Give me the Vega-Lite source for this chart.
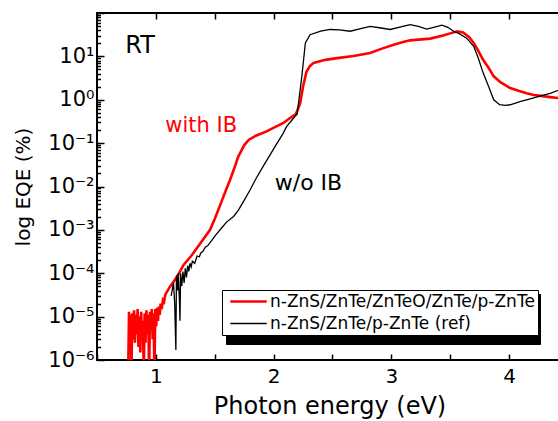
{
  "$schema": "https://vega.github.io/schema/vega-lite/v6.json",
  "width": 465,
  "height": 347,
  "autosize": {"type": "none"},
  "padding": {"left": 97, "top": 13, "right": 0, "bottom": 61},
  "background": "white",
  "config": {
    "view": {"stroke": "black", "strokeWidth": 2},
    "font": "DejaVu Sans",
    "axis": {
      "domain": false,
      "tickColor": "black",
      "tickWidth": 1.5,
      "labelColor": "black",
      "titleColor": "black",
      "labelFont": "DejaVu Sans",
      "titleFont": "DejaVu Sans",
      "titleFontWeight": "normal",
      "grid": false
    },
    "legend": {"labelFont": "DejaVu Sans"}
  },
  "resolve": {"axis": {"x": "independent", "y": "independent"}},
  "layer": [
    {
      "data": {
        "values": [
          {"s": "IB", "e": 0.765, "eqe": 5e-7},
          {"s": "IB", "e": 0.772, "eqe": 1.3e-5},
          {"s": "IB", "e": 0.778, "eqe": 4e-6},
          {"s": "IB", "e": 0.785, "eqe": 1.1e-5},
          {"s": "IB", "e": 0.792, "eqe": 5e-7},
          {"s": "IB", "e": 0.8, "eqe": 1.2e-5},
          {"s": "IB", "e": 0.808, "eqe": 3e-6},
          {"s": "IB", "e": 0.815, "eqe": 1.4e-5},
          {"s": "IB", "e": 0.822, "eqe": 2.5e-6},
          {"s": "IB", "e": 0.83, "eqe": 1.1e-5},
          {"s": "IB", "e": 0.838, "eqe": 4e-6},
          {"s": "IB", "e": 0.845, "eqe": 1.5e-5},
          {"s": "IB", "e": 0.852, "eqe": 2e-6},
          {"s": "IB", "e": 0.86, "eqe": 1.0e-5},
          {"s": "IB", "e": 0.868, "eqe": 1.5e-6},
          {"s": "IB", "e": 0.875, "eqe": 1.3e-5},
          {"s": "IB", "e": 0.883, "eqe": 3e-6},
          {"s": "IB", "e": 0.89, "eqe": 8e-6},
          {"s": "IB", "e": 0.897, "eqe": 5e-7},
          {"s": "IB", "e": 0.905, "eqe": 1.2e-5},
          {"s": "IB", "e": 0.912, "eqe": 2.5e-6},
          {"s": "IB", "e": 0.92, "eqe": 1.4e-5},
          {"s": "IB", "e": 0.928, "eqe": 4e-6},
          {"s": "IB", "e": 0.935, "eqe": 1.1e-5},
          {"s": "IB", "e": 0.943, "eqe": 5e-7},
          {"s": "IB", "e": 0.95, "eqe": 1.3e-5},
          {"s": "IB", "e": 0.958, "eqe": 5e-6},
          {"s": "IB", "e": 0.965, "eqe": 1.5e-5},
          {"s": "IB", "e": 0.973, "eqe": 3e-6},
          {"s": "IB", "e": 0.98, "eqe": 1.2e-5},
          {"s": "IB", "e": 0.988, "eqe": 5e-7},
          {"s": "IB", "e": 0.995, "eqe": 1.5e-5},
          {"s": "IB", "e": 1.003, "eqe": 6e-6},
          {"s": "IB", "e": 1.01, "eqe": 1.6e-5},
          {"s": "IB", "e": 1.018, "eqe": 8e-6},
          {"s": "IB", "e": 1.025, "eqe": 1.7e-5},
          {"s": "IB", "e": 1.033, "eqe": 1.1e-5},
          {"s": "IB", "e": 1.04, "eqe": 2.0e-5},
          {"s": "IB", "e": 1.05, "eqe": 1.5e-5},
          {"s": "IB", "e": 1.06, "eqe": 2.4e-5},
          {"s": "IB", "e": 1.07, "eqe": 2.2e-5},
          {"s": "IB", "e": 1.08, "eqe": 3.2e-5},
          {"s": "IB", "e": 1.12, "eqe": 4.9e-5},
          {"s": "IB", "e": 1.18, "eqe": 8.3e-5},
          {"s": "IB", "e": 1.235, "eqe": 1.55e-4},
          {"s": "IB", "e": 1.3, "eqe": 2.5e-4},
          {"s": "IB", "e": 1.38, "eqe": 5.0e-4},
          {"s": "IB", "e": 1.46, "eqe": 1.0e-3},
          {"s": "IB", "e": 1.5, "eqe": 1.78e-3},
          {"s": "IB", "e": 1.55, "eqe": 3.98e-3},
          {"s": "IB", "e": 1.6, "eqe": 8.9e-3},
          {"s": "IB", "e": 1.63, "eqe": 0.0141},
          {"s": "IB", "e": 1.67, "eqe": 0.0282},
          {"s": "IB", "e": 1.7, "eqe": 0.049},
          {"s": "IB", "e": 1.75, "eqe": 0.089},
          {"s": "IB", "e": 1.79, "eqe": 0.12},
          {"s": "IB", "e": 1.85, "eqe": 0.148},
          {"s": "IB", "e": 1.94, "eqe": 0.186},
          {"s": "IB", "e": 2.02, "eqe": 0.24},
          {"s": "IB", "e": 2.08, "eqe": 0.288},
          {"s": "IB", "e": 2.14, "eqe": 0.38},
          {"s": "IB", "e": 2.19, "eqe": 0.468},
          {"s": "IB", "e": 2.226, "eqe": 0.83},
          {"s": "IB", "e": 2.25, "eqe": 2.0},
          {"s": "IB", "e": 2.28, "eqe": 4.47},
          {"s": "IB", "e": 2.31, "eqe": 6.03},
          {"s": "IB", "e": 2.34, "eqe": 7.08},
          {"s": "IB", "e": 2.44, "eqe": 8.32},
          {"s": "IB", "e": 2.54, "eqe": 9.12},
          {"s": "IB", "e": 2.68, "eqe": 10.2},
          {"s": "IB", "e": 2.82, "eqe": 12.0},
          {"s": "IB", "e": 2.92, "eqe": 15.1},
          {"s": "IB", "e": 3.02, "eqe": 18.6},
          {"s": "IB", "e": 3.1, "eqe": 21.4},
          {"s": "IB", "e": 3.16, "eqe": 23.4},
          {"s": "IB", "e": 3.33, "eqe": 25.7},
          {"s": "IB", "e": 3.44, "eqe": 30.2},
          {"s": "IB", "e": 3.5, "eqe": 33.9},
          {"s": "IB", "e": 3.56, "eqe": 38.0},
          {"s": "IB", "e": 3.61, "eqe": 35.5},
          {"s": "IB", "e": 3.66, "eqe": 28.2},
          {"s": "IB", "e": 3.7, "eqe": 20.4},
          {"s": "IB", "e": 3.74, "eqe": 13.2},
          {"s": "IB", "e": 3.78, "eqe": 8.32},
          {"s": "IB", "e": 3.83, "eqe": 5.25},
          {"s": "IB", "e": 3.87, "eqe": 3.47},
          {"s": "IB", "e": 3.93, "eqe": 2.51},
          {"s": "IB", "e": 4.01, "eqe": 1.86},
          {"s": "IB", "e": 4.08, "eqe": 1.62},
          {"s": "IB", "e": 4.15, "eqe": 1.41},
          {"s": "IB", "e": 4.21, "eqe": 1.29},
          {"s": "IB", "e": 4.27, "eqe": 1.23},
          {"s": "IB", "e": 4.35, "eqe": 1.15},
          {"s": "IB", "e": 4.45, "eqe": 1.07},
          {"s": "ref", "e": 1.13, "eqe": 3e-5},
          {"s": "ref", "e": 1.15, "eqe": 6e-5},
          {"s": "ref", "e": 1.16, "eqe": 2e-5},
          {"s": "ref", "e": 1.17, "eqe": 1.7e-6},
          {"s": "ref", "e": 1.175, "eqe": 9e-5},
          {"s": "ref", "e": 1.185, "eqe": 4e-5},
          {"s": "ref", "e": 1.19, "eqe": 1e-4},
          {"s": "ref", "e": 1.2, "eqe": 2.5e-5},
          {"s": "ref", "e": 1.205, "eqe": 8e-6},
          {"s": "ref", "e": 1.21, "eqe": 1e-4},
          {"s": "ref", "e": 1.22, "eqe": 5e-5},
          {"s": "ref", "e": 1.23, "eqe": 1.1e-4},
          {"s": "ref", "e": 1.24, "eqe": 6e-5},
          {"s": "ref", "e": 1.25, "eqe": 1.3e-4},
          {"s": "ref", "e": 1.26, "eqe": 8e-5},
          {"s": "ref", "e": 1.27, "eqe": 1.5e-4},
          {"s": "ref", "e": 1.28, "eqe": 1.1e-4},
          {"s": "ref", "e": 1.29, "eqe": 1.7e-4},
          {"s": "ref", "e": 1.3, "eqe": 1.4e-4},
          {"s": "ref", "e": 1.31, "eqe": 1.9e-4},
          {"s": "ref", "e": 1.33, "eqe": 1.7e-4},
          {"s": "ref", "e": 1.35, "eqe": 2.5e-4},
          {"s": "ref", "e": 1.37, "eqe": 2.4e-4},
          {"s": "ref", "e": 1.38, "eqe": 2.9e-4},
          {"s": "ref", "e": 1.4, "eqe": 3.2e-4},
          {"s": "ref", "e": 1.42, "eqe": 4.0e-4},
          {"s": "ref", "e": 1.44, "eqe": 4.3e-4},
          {"s": "ref", "e": 1.475, "eqe": 5.75e-4},
          {"s": "ref", "e": 1.5, "eqe": 7.1e-4},
          {"s": "ref", "e": 1.52, "eqe": 8.3e-4},
          {"s": "ref", "e": 1.56, "eqe": 1.12e-3},
          {"s": "ref", "e": 1.6, "eqe": 1.51e-3},
          {"s": "ref", "e": 1.66, "eqe": 2.04e-3},
          {"s": "ref", "e": 1.7, "eqe": 2.82e-3},
          {"s": "ref", "e": 1.75, "eqe": 4.79e-3},
          {"s": "ref", "e": 1.8, "eqe": 8.3e-3},
          {"s": "ref", "e": 1.85, "eqe": 0.0151},
          {"s": "ref", "e": 1.91, "eqe": 0.0288},
          {"s": "ref", "e": 1.97, "eqe": 0.0537},
          {"s": "ref", "e": 2.03, "eqe": 0.1},
          {"s": "ref", "e": 2.08, "eqe": 0.166},
          {"s": "ref", "e": 2.11, "eqe": 0.24},
          {"s": "ref", "e": 2.17, "eqe": 0.38},
          {"s": "ref", "e": 2.2, "eqe": 0.468},
          {"s": "ref", "e": 2.22, "eqe": 1.26},
          {"s": "ref", "e": 2.24, "eqe": 3.47},
          {"s": "ref", "e": 2.27, "eqe": 20.4},
          {"s": "ref", "e": 2.31, "eqe": 31.6},
          {"s": "ref", "e": 2.4, "eqe": 38.0},
          {"s": "ref", "e": 2.48, "eqe": 41.7},
          {"s": "ref", "e": 2.56, "eqe": 40.7},
          {"s": "ref", "e": 2.65, "eqe": 38.0},
          {"s": "ref", "e": 2.74, "eqe": 43.7},
          {"s": "ref", "e": 2.82, "eqe": 49.0},
          {"s": "ref", "e": 2.9, "eqe": 45.7},
          {"s": "ref", "e": 2.99, "eqe": 41.7},
          {"s": "ref", "e": 3.08, "eqe": 47.9},
          {"s": "ref", "e": 3.16, "eqe": 53.7},
          {"s": "ref", "e": 3.23, "eqe": 49.0},
          {"s": "ref", "e": 3.3, "eqe": 42.7},
          {"s": "ref", "e": 3.36, "eqe": 46.8},
          {"s": "ref", "e": 3.43, "eqe": 52.5},
          {"s": "ref", "e": 3.48, "eqe": 46.8},
          {"s": "ref", "e": 3.53, "eqe": 38.0},
          {"s": "ref", "e": 3.58, "eqe": 33.1},
          {"s": "ref", "e": 3.64, "eqe": 26.3},
          {"s": "ref", "e": 3.7, "eqe": 17.0},
          {"s": "ref", "e": 3.74, "eqe": 8.9},
          {"s": "ref", "e": 3.78, "eqe": 4.17},
          {"s": "ref", "e": 3.83, "eqe": 1.91},
          {"s": "ref", "e": 3.87, "eqe": 1.0},
          {"s": "ref", "e": 3.92, "eqe": 0.767},
          {"s": "ref", "e": 3.97, "eqe": 0.741},
          {"s": "ref", "e": 4.01, "eqe": 0.767},
          {"s": "ref", "e": 4.1, "eqe": 0.912},
          {"s": "ref", "e": 4.18, "eqe": 1.05},
          {"s": "ref", "e": 4.27, "eqe": 1.23},
          {"s": "ref", "e": 4.35, "eqe": 1.41},
          {"s": "ref", "e": 4.45, "eqe": 1.78}
        ]
      },
      "mark": {"type": "line", "clip": true},
      "encoding": {
        "x": {
          "field": "e",
          "type": "quantitative",
          "scale": {"domain": [0.5, 4.45], "nice": false, "zero": false},
          "axis": {
            "orient": "bottom",
            "offset": -6,
            "tickSize": 6,
            "title": "Photon energy (eV)",
            "titleFontSize": 24,
            "titlePadding": 8,
            "labelFontSize": 20,
            "labelPadding": 6,
            "values": [0.5, 1, 1.5, 2, 2.5, 3, 3.5, 4, 4.5],
            "labelExpr": "datum.value % 1 == 0 ? format(datum.value, 'd') : ''",
            "labelFlush": false,
            "labelOverlap": false
          }
        },
        "y": {
          "field": "eqe",
          "type": "quantitative",
          "scale": {"type": "log", "domain": [1e-6, 100], "nice": false},
          "axis": {
            "orient": "left",
            "offset": -7,
            "tickSize": 7,
            "title": "log EQE (%)",
            "titleFontSize": 20,
            "titlePadding": 14,
            "labelFontSize": 21,
            "labelPadding": 3,
            "values": [1e-6, 1e-5, 1e-4, 0.001, 0.01, 0.1, 1, 10, 100],
            "labelExpr": "datum.value < 50 ? '10' + ['⁻⁶','⁻⁵','⁻⁴','⁻³','⁻²','⁻¹','⁰','¹','²'][round(log(datum.value)/LN10) + 6] : ''",
            "labelOverlap": false,
            "labelBound": false,
            "labelFlush": false
          }
        },
        "color": {
          "field": "s",
          "type": "nominal",
          "scale": {"domain": ["IB", "ref"], "range": ["#ff0000", "#000000"]},
          "legend": {
            "title": null,
            "orient": "none",
            "legendX": 125,
            "legendY": 277,
            "zindex": 2,
            "fillColor": "white",
            "strokeColor": "black",
            "padding": 3,
            "symbolType": "M-2.6,0H2.6",
            "symbolSize": 196,
            "symbolOffset": 15,
            "labelFontSize": 17,
            "labelColor": "black",
            "labelLimit": 400,
            "labelOffset": 13,
            "rowPadding": 4,
            "labelExpr": "datum.value == 'IB' ? 'n-ZnS/ZnTe/ZnTeO/ZnTe/p-ZnTe' : 'n-ZnS/ZnTe/p-ZnTe (ref)'"
          }
        },
        "strokeWidth": {
          "field": "s",
          "type": "nominal",
          "scale": {"domain": ["IB", "ref"], "range": [2.6, 1.3]},
          "legend": {
            "title": null,
            "orient": "none",
            "legendX": 125,
            "legendY": 277,
            "zindex": 2,
            "fillColor": "white",
            "strokeColor": "black",
            "padding": 3,
            "symbolType": "M-2.6,0H2.6",
            "symbolSize": 196,
            "symbolOffset": 15,
            "labelFontSize": 17,
            "labelColor": "black",
            "labelLimit": 400,
            "labelOffset": 13,
            "rowPadding": 4,
            "labelExpr": "datum.value == 'IB' ? 'n-ZnS/ZnTe/ZnTeO/ZnTe/p-ZnTe' : 'n-ZnS/ZnTe/p-ZnTe (ref)'"
          }
        },
        "opacity": {
          "field": "s",
          "type": "nominal",
          "scale": {"domain": ["ref", "IB"], "range": [1, 1]},
          "legend": {
            "title": null,
            "orient": "none",
            "legendX": 129,
            "legendY": 281,
            "zindex": 1,
            "fillColor": "black",
            "strokeColor": "black",
            "padding": 3,
            "symbolType": "M-1,-0.8H1V0.8H-1Z",
            "symbolSize": 196,
            "symbolOffset": 289,
            "symbolFillColor": "black",
            "symbolStrokeColor": "black",
            "labelFontSize": 17,
            "labelOffset": 0,
            "rowPadding": 7,
            "labelExpr": "''"
          }
        }
      }
    },
    {
      "data": {"values": [{"t": "RT", "e": 0.74, "eqe": 12.2}]},
      "mark": {"type": "text", "align": "left", "baseline": "alphabetic", "fontSize": 24, "color": "black"},
      "encoding": {
        "x": {
          "field": "e",
          "type": "quantitative",
          "axis": {
            "orient": "top",
            "offset": -6,
            "tickSize": 6,
            "title": null,
            "labels": false,
            "values": [0.5, 1, 1.5, 2, 2.5, 3, 3.5, 4, 4.5]
          }
        },
        "y": {
          "field": "eqe",
          "type": "quantitative",
          "scale": {"type": "log"},
          "axis": {
            "orient": "left",
            "offset": -3.5,
            "tickSize": 3.5,
            "title": null,
            "labels": false,
            "values": [2e-6,3e-6,4e-6,5e-6,6e-6,7e-6,8e-6,9e-6,2e-5,3e-5,4e-5,5e-5,6e-5,7e-5,8e-5,9e-5,2e-4,3e-4,4e-4,5e-4,6e-4,7e-4,8e-4,9e-4,0.002,0.003,0.004,0.005,0.006,0.007,0.008,0.009,0.02,0.03,0.04,0.05,0.06,0.07,0.08,0.09,0.2,0.3,0.4,0.5,0.6,0.7,0.8,0.9,2,3,4,5,6,7,8,9,20,30,40,50,60,70,80,90]
          }
        },
        "text": {"field": "t"}
      }
    },
    {
      "data": {"values": [{"t": "with IB", "e": 1.08, "eqe": 0.185}]},
      "mark": {"type": "text", "align": "left", "baseline": "alphabetic", "fontSize": 21, "color": "#ff0000"},
      "encoding": {
        "x": {"field": "e", "type": "quantitative", "axis": null},
        "y": {"field": "eqe", "type": "quantitative", "scale": {"type": "log"}, "axis": null},
        "text": {"field": "t"}
      }
    },
    {
      "data": {"values": [{"t": "w/o IB", "e": 2.01, "eqe": 0.0082}]},
      "mark": {"type": "text", "align": "left", "baseline": "alphabetic", "fontSize": 22, "color": "black"},
      "encoding": {
        "x": {"field": "e", "type": "quantitative", "axis": null},
        "y": {"field": "eqe", "type": "quantitative", "scale": {"type": "log"}, "axis": null},
        "text": {"field": "t"}
      }
    }
  ]
}
